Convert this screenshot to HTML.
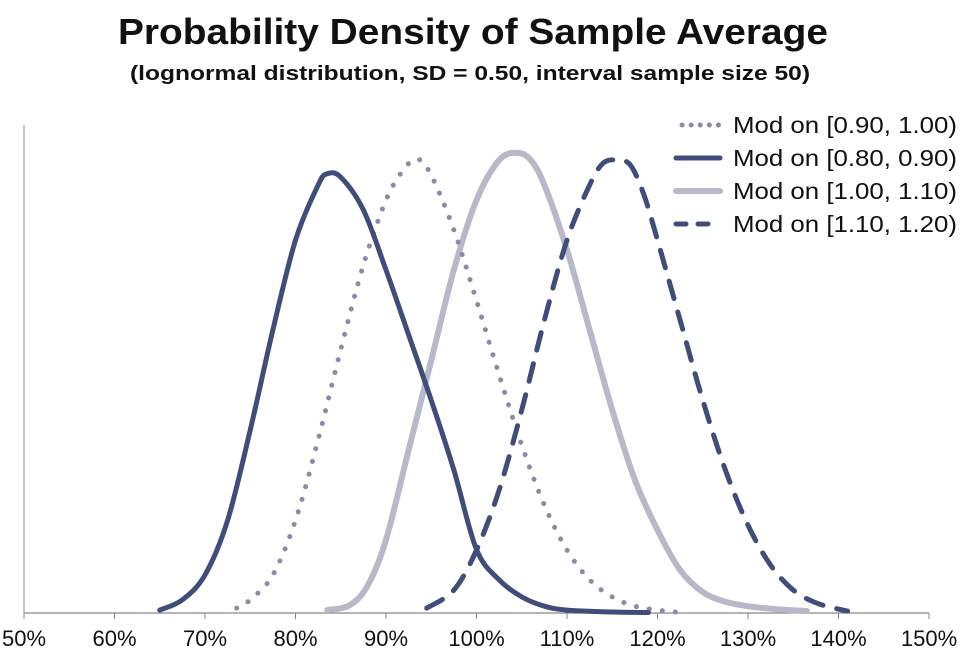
<!DOCTYPE html>
<html><head><meta charset="utf-8"><style>
body{margin:0;background:#fff;}
svg text{font-family:"Liberation Sans",sans-serif;fill:#111;}
</style></head><body>
<svg id="chart" width="962" height="654" viewBox="0 0 962 654" xmlns="http://www.w3.org/2000/svg">
<text x="473" y="44" text-anchor="middle" font-size="36" font-weight="bold" textLength="710" lengthAdjust="spacingAndGlyphs">Probability Density of Sample Average</text>
<text x="470" y="80" text-anchor="middle" font-size="20" font-weight="bold" textLength="680" lengthAdjust="spacingAndGlyphs">(lognormal distribution, SD = 0.50, interval sample size 50)</text>
<g id="plot"></g>
<g id="legend"></g>
</svg>
<script>
const xTicks=[50,60,70,80,90,100,110,120,130,140,150];
const xDotted=[73.5,75,77.5,80,82.5,85,87.5,90,92,93.5,95,97.5,100,102.5,105,107.5,110,112.5,115,117.5,120,122];
const yDotted=[.01,.027,.078,.19,.355,.54,.713,.846,.91,.93,.897,.785,.64,.488,.344,.221,.129,.068,.033,.014,.006,.002];
const xDark=[65,67.5,70,72.5,75,77.5,80,82.5,83.5,85,87.5,90,92.5,95,97.5,100,102.5,105,107.5,110,115,119];
const yDark=[.006,.027,.078,.19,.375,.58,.764,.877,.9,.893,.826,.703,.57,.436,.293,.13,.068,.033,.014,.006,.002,.001];
const xLight=[83.5,86,88,90,92.5,95,97.5,100,102.5,104.5,106,107.5,110,112.5,115,117.5,120,122.5,125,127.5,130,133,136.5];
const yLight=[.006,.016,.057,.15,.334,.518,.703,.846,.928,.943,.928,.877,.744,.58,.416,.273,.17,.088,.043,.023,.014,.008,.004];
const xDashed=[94.5,97.5,100,102.5,105,107.5,110,112.5,114,115.5,117,118.5,120,122.5,125,127.5,130,132.5,135,137.5,140,141];
const yDashed=[.01,.047,.129,.252,.416,.6,.764,.877,.922,.928,.918,.857,.764,.6,.436,.293,.18,.098,.047,.021,.008,.004];
const seriesNames=["Mod on [0.90, 1.00)","Mod on [0.80, 0.90)","Mod on [1.00, 1.10)","Mod on [1.10, 1.20)"];

const X0=24,X1=929,Y0=613,Y1=125;
const sx=v=>X0+(v-50)/100*(X1-X0);
const sy=v=>Y0-v*(Y0-Y1);
const NS="http://www.w3.org/2000/svg";
const plot=document.getElementById('plot');
function mk(tag,attrs,parent){const e=document.createElementNS(NS,tag);for(const k in attrs)e.setAttribute(k,attrs[k]);parent.appendChild(e);return e;}

const ya=mk('line',{x1:X0,y1:Y1,x2:X0,y2:Y0,stroke:'#888','stroke-width':1},plot);


const xa=mk('line',{x1:X0,y1:Y0,x2:X1,y2:Y0,stroke:'#888','stroke-width':1.2},plot);


xTicks.forEach(t=>{
  const tk=mk('line',{x1:sx(t),y1:Y0,x2:sx(t),y2:Y0+6,stroke:'#888'},plot);
  
  
  const lb=mk('text',{x:sx(t),y:646,'text-anchor':'middle','font-size':22},plot);
  
  
  lb.textContent=t+'%';
});
function path(xs,ys){
  const p=xs.map((x,i)=>[sx(x),sy(ys[i])]);
  let d='M'+p[0][0]+','+p[0][1];
  for(let i=0;i<p.length-1;i++){
    const a=p[Math.max(0,i-1)],b=p[i],c=p[i+1],e=p[Math.min(p.length-1,i+2)];
    const c1=[b[0]+(c[0]-a[0])/6,b[1]+(c[1]-a[1])/6],c2=[c[0]-(e[0]-b[0])/6,c[1]-(e[1]-b[1])/6];
    d+=`C${c1[0]},${c1[1]} ${c2[0]},${c2[1]} ${c[0]},${c[1]}`;
  }
  return d;
}
const styles=[
 {stroke:'#8e89a8',w:5,dash:'0.1 13',name:'series-mod-090-100'},
 {stroke:'#3f4d7b',w:5,dash:'',name:'series-mod-080-090'},
 {stroke:'#b8b8c8',w:6,dash:'',name:'series-mod-100-110'},
 {stroke:'#3f4d7b',w:5,dash:'18 14',name:'series-mod-110-120'}];
const data=[[xDotted,yDotted],[xDark,yDark],[xLight,yLight],[xDashed,yDashed]];
[2,0,1,3].forEach(i=>{
  const s=styles[i];
  const el=mk('path',{d:path(data[i][0],data[i][1]),fill:'none',stroke:s.stroke,'stroke-width':s.w,'stroke-linecap':'round','stroke-linejoin':'round','stroke-dasharray':s.dash},plot);
  
  
});
const lg=document.getElementById('legend');
seriesNames.forEach((n,i)=>{
  const y=125+i*33;const s=styles[i];
  const ln=mk('line',{x1:i==0?682:676,y1:y,x2:720,y2:y,stroke:s.stroke,'stroke-width':s.w,'stroke-linecap':'round','stroke-dasharray':i==0?'0.1 9':(i==3?'10 12':'')},lg);
  
  
  const t=mk('text',{x:733,y:y+8,'font-size':23,textLength:224,lengthAdjust:'spacingAndGlyphs'},lg);
  
  
  t.textContent=n;
});
</script>
</body></html>
